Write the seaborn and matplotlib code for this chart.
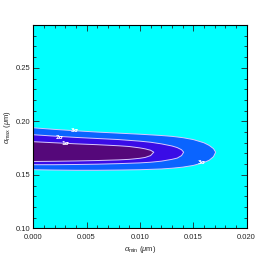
import numpy as np
import pandas as pd
import matplotlib
matplotlib.use('Agg')
import matplotlib.pyplot as plt
from matplotlib.ticker import MultipleLocator, FormatStrFormatter
import seaborn as sns

# contour outlines (alpha_min, alpha_max in micron)
s3_x = [0, .002, .004, .006, .008, .010, .012, .013, .014, .015, .0160, .0165, .0169, .0171]
s3_top = [.1940, .1925, .1912, .1900, .1890, .1880, .1868, .1860, .1848, .1830, .1800, .1775, .1745, .1712]
s3_bot = [.1548, .1545, .1543, .1543, .1545, .1548, .1555, .1562, .1572, .1588, .1615, .1637, .1670, .1712]

s2_x = [0, .002, .004, .006, .008, .010, .011, .012, .013, .0135, .0139, .0141]
s2_top = [.1875, .1862, .1850, .1840, .1830, .1815, .1805, .1790, .1770, .1755, .1735, .1712]
s2_bot = [.1595, .1595, .1597, .1600, .1605, .1612, .1618, .1628, .1645, .1657, .1680, .1712]

s1_x = [0, .002, .004, .006, .008, .009, .010, .0105, .011, .0113]
s1_top = [.1810, .1800, .1790, .1782, .1772, .1765, .1752, .1743, .1730, .1712]
s1_bot = [.1625, .1627, .1630, .1634, .1640, .1645, .1655, .1663, .1680, .1712]

levels = ['3σ', '2σ', '1σ']
fill_colors = ['#0A64FF', '#3A0CE6', '#55087A']
bg_color = '#00FFFF'
line_color = '#D8C8FF'

# label positions (x, y, text)
lab_x = [0.0039, 0.0025, 0.0030, 0.0158]
lab_y = [0.1915, 0.1853, 0.1797, 0.1620]
lab_t = ['3σ', '2σ', '1σ', '3σ']

sns.set_style('ticks')
plt.rcParams['font.family'] = ['Liberation Sans', 'DejaVu Sans']
plt.rcParams['mathtext.fontset'] = 'custom'
plt.rcParams['mathtext.rm'] = 'Liberation Sans'
plt.rcParams['mathtext.it'] = 'Liberation Sans:italic'

fig = plt.figure(figsize=(2.66, 2.61), dpi=100)
ax = fig.add_axes([0.125, 0.125, 0.802, 0.779])
ax.set_facecolor(bg_color)

outlines = [(s3_x, s3_top, s3_bot), (s2_x, s2_top, s2_bot), (s1_x, s1_top, s1_bot)]
for (xs, top, bot), lev, col in zip(outlines, levels, fill_colors):
    loop_x = list(xs) + list(xs[::-1])
    loop_y = list(top) + list(bot[::-1])
    ax.fill(loop_x, loop_y, color=col, lw=0)
    df = pd.DataFrame({'x': loop_x, 'y': loop_y})
    sns.lineplot(data=df, x='x', y='y', sort=False, estimator=None,
                 color=line_color, lw=0.7, ax=ax)

for x, y, t in zip(lab_x, lab_y, lab_t):
    ax.text(x, y, t, color='white', fontsize=4, ha='center', va='center',
            family=['DejaVu Sans'], fontweight='bold')

ax.set_xlim(0, 0.02)
ax.set_ylim(0.10, 0.29)
ax.xaxis.set_major_locator(MultipleLocator(0.005))
ax.xaxis.set_minor_locator(MultipleLocator(0.001))
ax.yaxis.set_major_locator(MultipleLocator(0.05))
ax.yaxis.set_minor_locator(MultipleLocator(0.01))
ax.xaxis.set_major_formatter(FormatStrFormatter('%.3f'))
ax.yaxis.set_major_formatter(FormatStrFormatter('%.2f'))
ax.tick_params(which='both', direction='in', top=True, right=True,
               labelsize=5.5, width=0.6)
ax.tick_params(axis='x', pad=4)
ax.tick_params(axis='y', pad=2)
ax.tick_params(which='major', length=4)
ax.tick_params(which='minor', length=2)
for sp in ax.spines.values():
    sp.set_linewidth(0.8)
    sp.set_color('black')

ax.set_xlabel(r'$\alpha_{\rm min}$ ($\mu$m)', fontsize=5.5, labelpad=2)
ax.set_ylabel(r'$\alpha_{\rm max}$ ($\mu$m)', fontsize=5.5, labelpad=2)

fig.savefig('out.png', dpi=100)
